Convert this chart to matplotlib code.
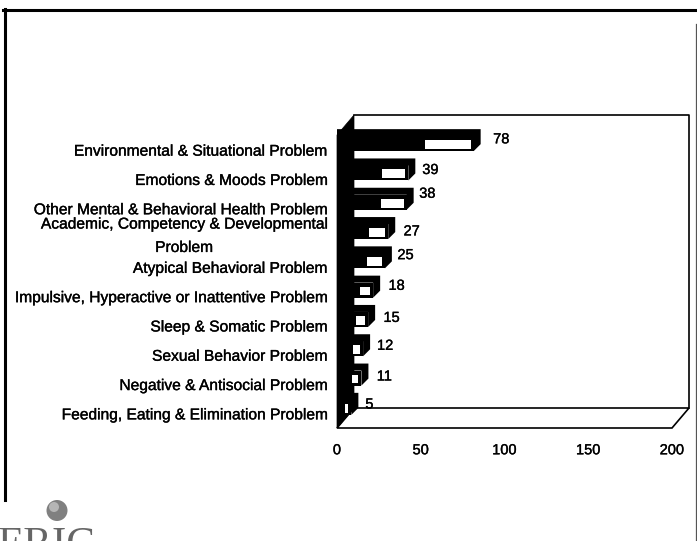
import matplotlib
matplotlib.use('Agg')
from matplotlib import pyplot as plt
from matplotlib.patches import Polygon, Circle
from matplotlib.transforms import ScaledTranslation
import matplotlib.patheffects as pe

W, H = 697, 541

labels = ['Environmental & Situational Problem', 'Emotions & Moods Problem',
          'Other Mental & Behavioral Health Problem',
          'Academic, Competency & Developmental\nProblem',
          'Atypical Behavioral Problem',
          'Impulsive, Hyperactive or Inattentive Problem',
          'Sleep & Somatic Problem', 'Sexual Behavior Problem',
          'Negative & Antisocial Problem',
          'Feeding, Eating & Elimination Problem']
values = [78, 39, 38, 27, 25, 18, 15, 12, 11, 5]
x_ticks = [0, 50, 100, 150, 200]
# the value labels sit unevenly in the scan, offsets in points
nudge_x = [9, 5, 4, 6, 4, 6, 6, 5, 6, 5]
nudge_y = [1, 0, 4, -2, 2, 1, -1, 0, -1, 0]

plt.rcParams['font.family'] = ['Liberation Sans', 'DejaVu Sans']
fig = plt.figure(figsize=(W / 100, H / 100), dpi=100)
bold = [pe.withStroke(linewidth=0.25, foreground='black')]

# plot area in pixels, front plane of the fake 3d box
ax = fig.add_axes([337 / W, 1 - 428 / H, 335 / W, 293 / H])
ax.set_xlim(0, 200)
ax.set_ylim(9.5, -0.5)
ax.patch.set_alpha(0)
for s in ax.spines.values():
    s.set_visible(False)

# depth of the box and of the bars, in data units
dx = 17 * 200 / 335
dy = 20 / 29.3
bar_x = 6 * 200 / 335
bar_dx = 7 * 200 / 335
bar_y = 6 / 29.3
bar_dy = 7 / 29.3
bar_h = 15 / 29.3

# walls
ax.add_patch(Polygon([(0, 9.5), (dx, 9.5 - dy), (200 + dx, 9.5 - dy), (200, 9.5)],
                     closed=True, fc='white', ec='black', lw=1.2, clip_on=False))
ax.plot([dx, 200 + dx, 200 + dx], [-0.5 - dy, -0.5 - dy, 9.5 - dy], color='black',
        lw=1.2, clip_on=False)
ax.add_patch(Polygon([(0, -0.5), (dx, -0.5 - dy), (dx, 9.5 - dy), (0, 9.5)],
                     closed=True, fc='black', ec='black', lw=0.5, clip_on=False))

for i, v in enumerate(values):
    y = i - bar_y
    right = v + bar_x
    ax.barh(y, right, height=bar_h, color='black', zorder=3)
    # top and end faces of the bar
    ax.add_patch(Polygon([(0, y - bar_h / 2), (0, y - bar_h / 2 - bar_dy),
                          (right + bar_dx, y - bar_h / 2 - bar_dy),
                          (right + bar_dx, y + bar_h / 2 - bar_dy),
                          (right, y + bar_h / 2), (right, y - bar_h / 2)],
                         closed=True, fc='black', ec='none', zorder=3, clip_on=False))
    # washed out part of the scan
    ax.barh(y + 0.03, v * 0.35, left=right - 1.8 - v * 0.35, height=0.3, color='white', zorder=4)
    ax.annotate(str(v), (right + bar_dx, y - 0.1), xytext=(nudge_x[i], nudge_y[i]),
                textcoords='offset points', fontsize=10.5, va='center', ha='left',
                path_effects=bold, zorder=5)

ax.set_yticks(range(len(labels)))
ax.set_yticklabels(labels, fontsize=11.2, linespacing=1.7, multialignment='center',
                   path_effects=bold)
ax.tick_params(axis='y', length=0, pad=7)
# the two line label sits a bit higher than its bar
t = ax.get_yticklabels()[3]
t.set_transform(t.get_transform() + ScaledTranslation(0, 7.5 / 100, fig.dpi_scale_trans))
ax.set_xticks(x_ticks)
ax.set_xticklabels([str(t) for t in x_ticks], fontsize=10.5, path_effects=bold)
ax.tick_params(axis='x', length=0, pad=11)

# page frame from the scan
fig.add_artist(plt.Line2D([4.5 / W, 4.5 / W], [1 - 500 / H, 1 - 9 / H], color='black', lw=2.2))
fig.add_artist(plt.Line2D([3 / W, 1], [1 - 10 / H, 1 - 10 / H], color='black', lw=2.2))
fig.add_artist(plt.Line2D([696 / W, 696 / W], [0, 1 - 24 / H], color='#555555', lw=0.9))

# ERIC logo cut off by the page edge
fig.add_artist(Circle((57, H - 510.5), 10.5, transform=None, fc='#808080', ec='none'))
fig.add_artist(Circle((54, H - 507), 5, transform=None, fc='#b5b5b5', ec='none'))
fig.text(-2 / W, 1 - 556 / H, 'ERIC', family='Liberation Serif', fontsize=31,
         color='#666666', va='baseline', ha='left')

fig.savefig('out.png', dpi=100)
